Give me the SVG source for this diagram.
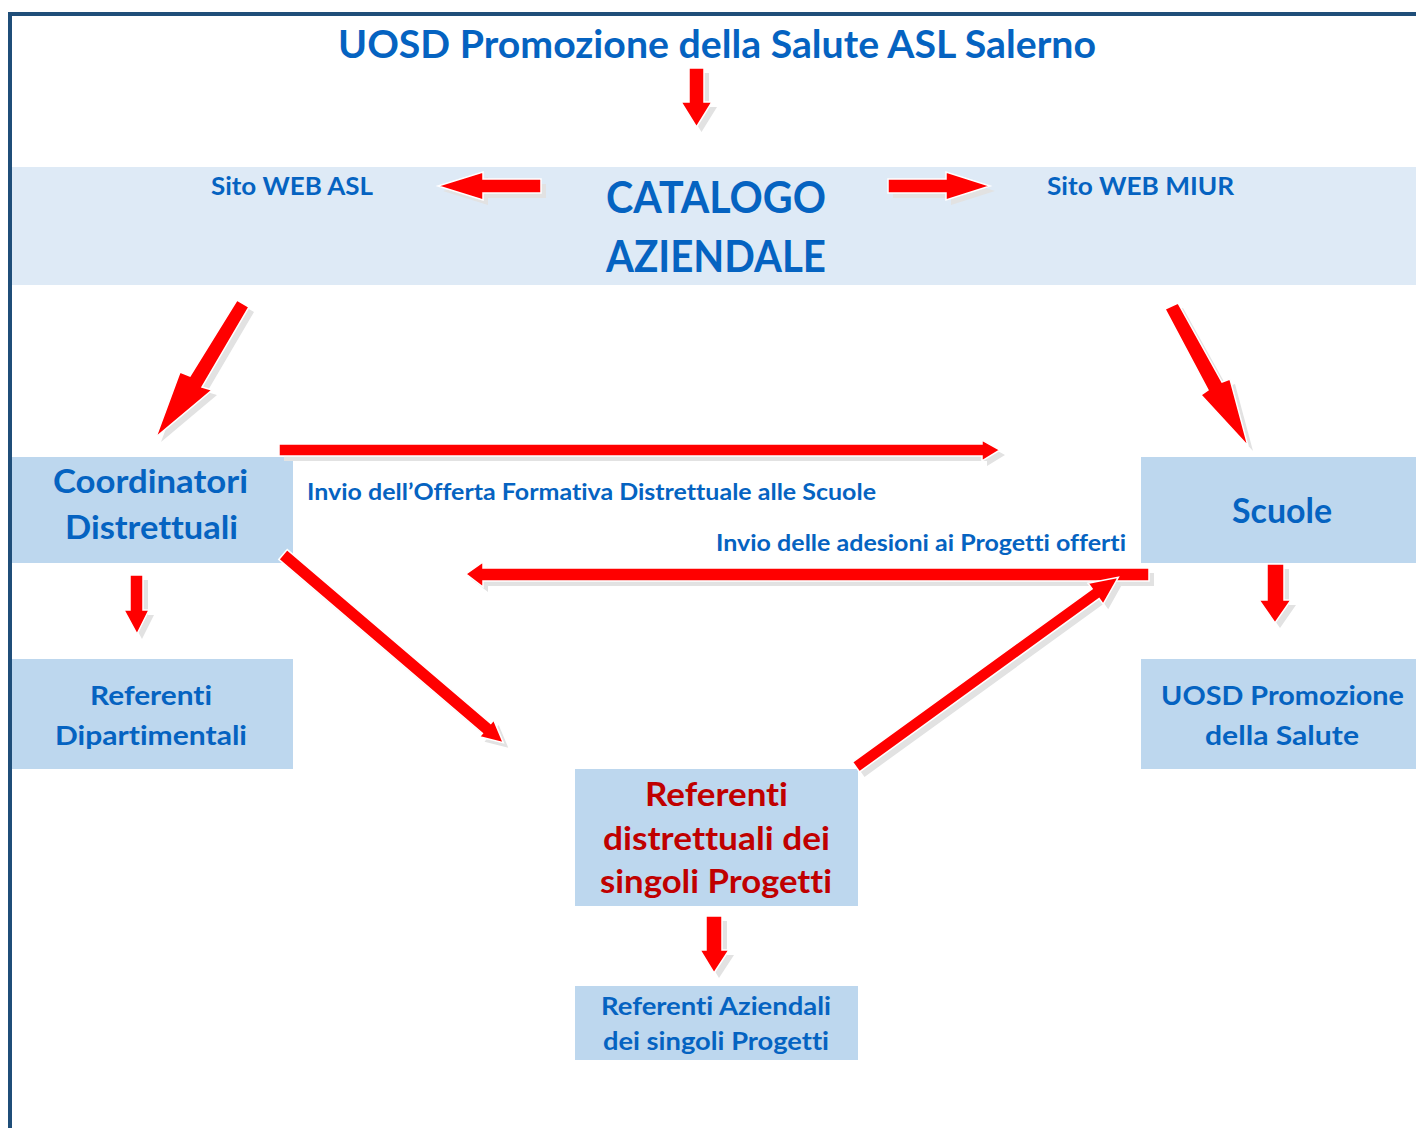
<svg xmlns="http://www.w3.org/2000/svg" xmlns:xlink="http://www.w3.org/1999/xlink" width="1416" height="1128" viewBox="0 0 1416 1128">
<style>
  .t { font-family: Lato, "Open Sans", "Liberation Sans", sans-serif; font-weight: 700; fill: #0563C1; text-anchor: middle; font-variant-ligatures: none; font-feature-settings: "liga" 0, "clig" 0; }
  .red { fill: #C00000; }
  .box { fill: #BDD7EE; }
  .band { fill: #DEEAF6; }
  .arr { fill: #FF0000; stroke: #FFFFFF; stroke-width: 1.5; stroke-linejoin: miter; }
  .sh { fill: #E2E2E2; }
</style>
<defs>
  <polygon id="a1" points="689,68 704,68 704,102 712,102 696.5,127 681,102 689,102"/>
  <polygon id="a2" points="541,179 541,193 483,193 483,200 438,186 483,172 483,179"/>
  <polygon id="a3" points="888,179 946,179 946,172 990,186 946,200 946,193 888,193"/>
  <polygon id="a4" points="237,300 249,307 202,387 212,390 156,437 180,372 190,376"/>
  <polygon id="a5" points="1165,309 1178,303 1222,382 1230,379 1248,446 1201,395 1208,390"/>
  <polygon id="a6" points="279,444 982,444 982,440 1000,450 982,461 982,456 279,456"/>
  <polygon id="a7" points="1149,568 1149,581 483,581 483,587 466,574 483,562 483,568"/>
  <polygon id="a8" points="278.8,559.4 482.4,733.3 479.5,736.8 503.3,742.7 493.7,720 490.8,723.5 287.2,549.6"/>
  <polygon id="a9" points="852.5,762.1 1092.1,588.8 1088,583.2 1118.3,577.3 1103.2,604.2 1099.1,598.6 859.5,771.9"/>
  <polygon id="a10" points="130,575 143,575 143,610 149,610 137,634 124,610 130,610"/>
  <polygon id="a11" points="1267,564 1284,564 1284,600 1291,600 1275,623 1259,600 1267,600"/>
  <polygon id="a12" points="706,916 722,916 722,950 729,950 714,973 700,950 706,950"/>
</defs>

<rect x="0" y="0" width="1416" height="1128" fill="#FFFFFF"/>
<path d="M10,1128 V14 H1416" fill="none" stroke="#1F4E79" stroke-width="4"/>

<g id="title">
  <text class="t" x="717" y="58" font-size="39" textLength="758" lengthAdjust="spacingAndGlyphs">UOSD Promozione della Salute ASL Salerno</text>
</g>

<g id="catalogo">
  <rect class="band" x="12" y="167" width="1404" height="118"/>
  <text class="t" x="716" y="213" font-size="44" textLength="220" lengthAdjust="spacingAndGlyphs">CATALOGO</text>
  <text class="t" x="716" y="272" font-size="44" textLength="220" lengthAdjust="spacingAndGlyphs">AZIENDALE</text>
</g>

<g id="sito-asl">
  <text class="t" x="292" y="195" font-size="25" textLength="162" lengthAdjust="spacingAndGlyphs">Sito WEB ASL</text>
</g>

<g id="sito-miur">
  <text class="t" x="1140.5" y="195" font-size="25" textLength="187" lengthAdjust="spacingAndGlyphs">Sito WEB MIUR</text>
</g>

<g id="coordinatori">
  <rect class="box" x="12" y="457" width="281" height="106"/>
  <text class="t" x="150.5" y="493" font-size="33" textLength="195" lengthAdjust="spacingAndGlyphs">Coordinatori</text>
  <text class="t" x="151.5" y="539" font-size="33" textLength="173" lengthAdjust="spacingAndGlyphs">Distrettuali</text>
</g>

<g id="referenti-dipartimentali">
  <rect class="box" x="12" y="659" width="281" height="110"/>
  <text class="t" x="151" y="705" font-size="27" textLength="122" lengthAdjust="spacingAndGlyphs">Referenti</text>
  <text class="t" x="151" y="745" font-size="27" textLength="192" lengthAdjust="spacingAndGlyphs">Dipartimentali</text>
</g>

<g id="scuole">
  <rect class="box" x="1141" y="457" width="275" height="106"/>
  <text class="t" x="1282" y="523" font-size="34" textLength="100" lengthAdjust="spacingAndGlyphs">Scuole</text>
</g>

<g id="uosd-promozione">
  <rect class="box" x="1141" y="659" width="275" height="110"/>
  <text class="t" x="1282.5" y="705" font-size="27" textLength="243" lengthAdjust="spacingAndGlyphs">UOSD Promozione</text>
  <text class="t" x="1282" y="745" font-size="27" textLength="154" lengthAdjust="spacingAndGlyphs">della Salute</text>
</g>

<g id="referenti-distrettuali">
  <rect class="box" x="575" y="769" width="283" height="137"/>
  <text class="t red" x="716.5" y="806" font-size="33" textLength="143" lengthAdjust="spacingAndGlyphs">Referenti</text>
  <text class="t red" x="716.5" y="850" font-size="33" textLength="227" lengthAdjust="spacingAndGlyphs">distrettuali dei</text>
  <text class="t red" x="716" y="893" font-size="33" textLength="232" lengthAdjust="spacingAndGlyphs">singoli Progetti</text>
</g>

<g id="referenti-aziendali">
  <rect class="box" x="575" y="986" width="283" height="74"/>
  <text class="t" x="716" y="1015" font-size="25" textLength="230" lengthAdjust="spacingAndGlyphs">Referenti Aziendali</text>
  <text class="t" x="716" y="1050" font-size="25" textLength="226" lengthAdjust="spacingAndGlyphs">dei singoli Progetti</text>
</g>

<g id="connectors">
  <g class="sh" transform="translate(5,5)">
    <use xlink:href="#a1"/><use xlink:href="#a2"/><use xlink:href="#a3"/><use xlink:href="#a4"/>
    <use xlink:href="#a5"/><use xlink:href="#a6"/><use xlink:href="#a7"/><use xlink:href="#a8"/>
    <use xlink:href="#a9"/><use xlink:href="#a10"/><use xlink:href="#a11"/><use xlink:href="#a12"/>
  </g>
  <g class="arr">
    <use xlink:href="#a1"/><use xlink:href="#a2"/><use xlink:href="#a3"/><use xlink:href="#a4"/>
    <use xlink:href="#a5"/><use xlink:href="#a6"/><use xlink:href="#a7"/><use xlink:href="#a8"/>
    <use xlink:href="#a9"/><use xlink:href="#a10"/><use xlink:href="#a11"/><use xlink:href="#a12"/>
  </g>
  <text class="t" x="591.5" y="500" font-size="23" textLength="569" lengthAdjust="spacingAndGlyphs">Invio dell’Offerta Formativa Distrettuale alle Scuole</text>
  <text class="t" x="921" y="551" font-size="23" textLength="410" lengthAdjust="spacingAndGlyphs">Invio delle adesioni ai Progetti offerti</text>
</g>
</svg>
